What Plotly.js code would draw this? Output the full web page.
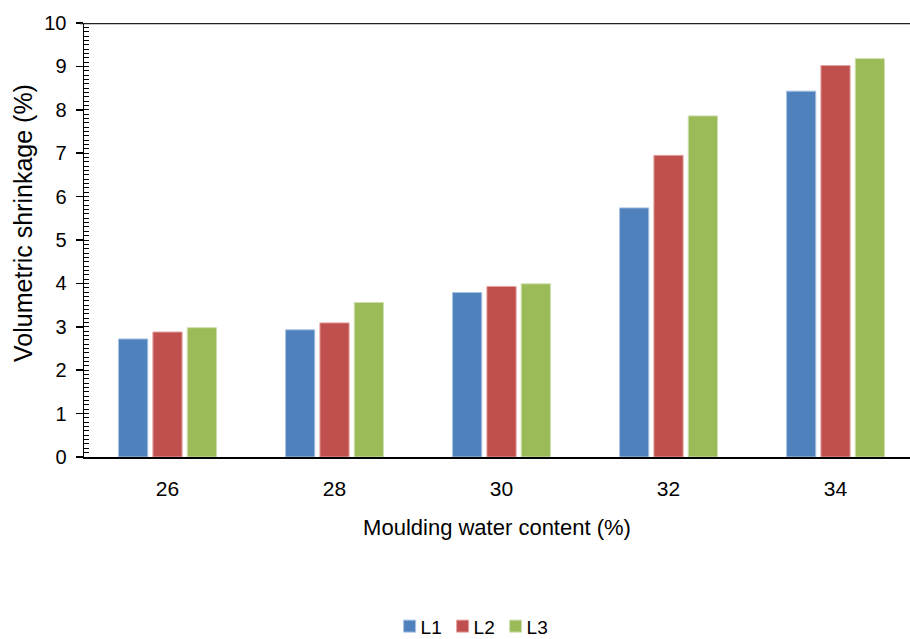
<!DOCTYPE html>
<html>
<head>
<meta charset="utf-8">
<script src="https://cdn.plot.ly/plotly-3.0.1.min.js"></script>
<style>html,body{margin:0;padding:0;background:#fff;}#chart{width:910px;height:639px;}</style>
</head>
<body>
<div id="chart"></div>
<script>
const categories = ["26", "28", "30", "32", "34"];
const seriesNames = ["L1", "L2", "L3"];
const L1 = [2.72, 2.93, 3.79, 5.74, 8.43];
const L2 = [2.88, 3.09, 3.93, 6.95, 9.02];
const L3 = [2.98, 3.56, 3.99, 7.86, 9.18];
const yTicks = [0, 1, 2, 3, 4, 5, 6, 7, 8, 9, 10];
const colors = ["#4F81BD", "#C0504D", "#9BBB59"];
const edge = ["#a9c3e3", "#e3a3a1", "#cddfae"];

const FONT = "'Liberation Sans', Arial, sans-serif";
const values = [L1, L2, L3];
const traces = values.map((v, i) => ({
  type: "bar",
  name: seriesNames[i],
  x: categories,
  y: v,
  marker: {color: colors[i], line: {color: edge[i], width: 1}},
  hoverinfo: "y"
}));

const layout = {
  width: 910, height: 639,
  margin: {l: 84, r: 0, t: 23, b: 182, autoexpand: false},
  paper_bgcolor: "#fff", plot_bgcolor: "#fff",
  bargap: 0.383, bargroupgap: 0.15,
  font: {family: FONT, color: "#000", size: 20},
  showlegend: true,
  legend: {orientation: "h", x: 0.37, xanchor: "left", y: -0.39, yanchor: "middle",
           font: {family: FONT, size: 19, color: "#000"}, itemwidth: 30,
           entrywidth: 8, entrywidthmode: "pixels", traceorder: "normal"},
  xaxis: {
    type: "category",
    range: [-0.5, 4.446],
    showline: true, linecolor: "#000", linewidth: 2,
    mirror: false,
    ticks: "", ticklabelstandoff: 12,
    tickfont: {family: FONT, size: 21, color: "#000"},
    showgrid: false, zeroline: false,
    title: {text: "Moulding water content (%)", font: {family: FONT, size: 22, color: "#000"}, standoff: 20}
  },
  yaxis: {
    range: [0, 10],
    tickvals: yTicks,
    ticktext: yTicks.map(String),
    showline: true, linecolor: "#000", linewidth: 1.5,
    ticks: "outside", ticklen: 7, tickcolor: "#000", tickwidth: 1.5,
    minor: {dtick: 0.1, ticks: "inside", ticklen: 5, tickcolor: "#000", tickwidth: 1, showgrid: false},
    tickfont: {family: FONT, size: 20, color: "#000"},
    ticklabelstandoff: 5,
    showgrid: false, zeroline: false
  },
  annotations: [{text: "Volumetric shrinkage (%)", textangle: -90, xref: "paper", yref: "paper",
                 x: -0.074, y: 0.539, xanchor: "center", yanchor: "middle", showarrow: false,
                 font: {family: FONT, size: 25, color: "#000"}}],
  shapes: [{type: "line", xref: "paper", yref: "y", x0: -0.005, x1: 1, y0: 10, y1: 10,
            line: {color: "#222", width: 2.5}}]
};

Plotly.newPlot("chart", traces, layout, {displayModeBar: false, staticPlot: true}).then(() => {
  document.querySelectorAll("#chart .legend [clip-path], #chart .legend").forEach(el => el.removeAttribute("clip-path"));
  document.querySelectorAll("#chart .legend .legendtext").forEach(el => el.setAttribute("x", "31"));
});
</script>
</body>
</html>
